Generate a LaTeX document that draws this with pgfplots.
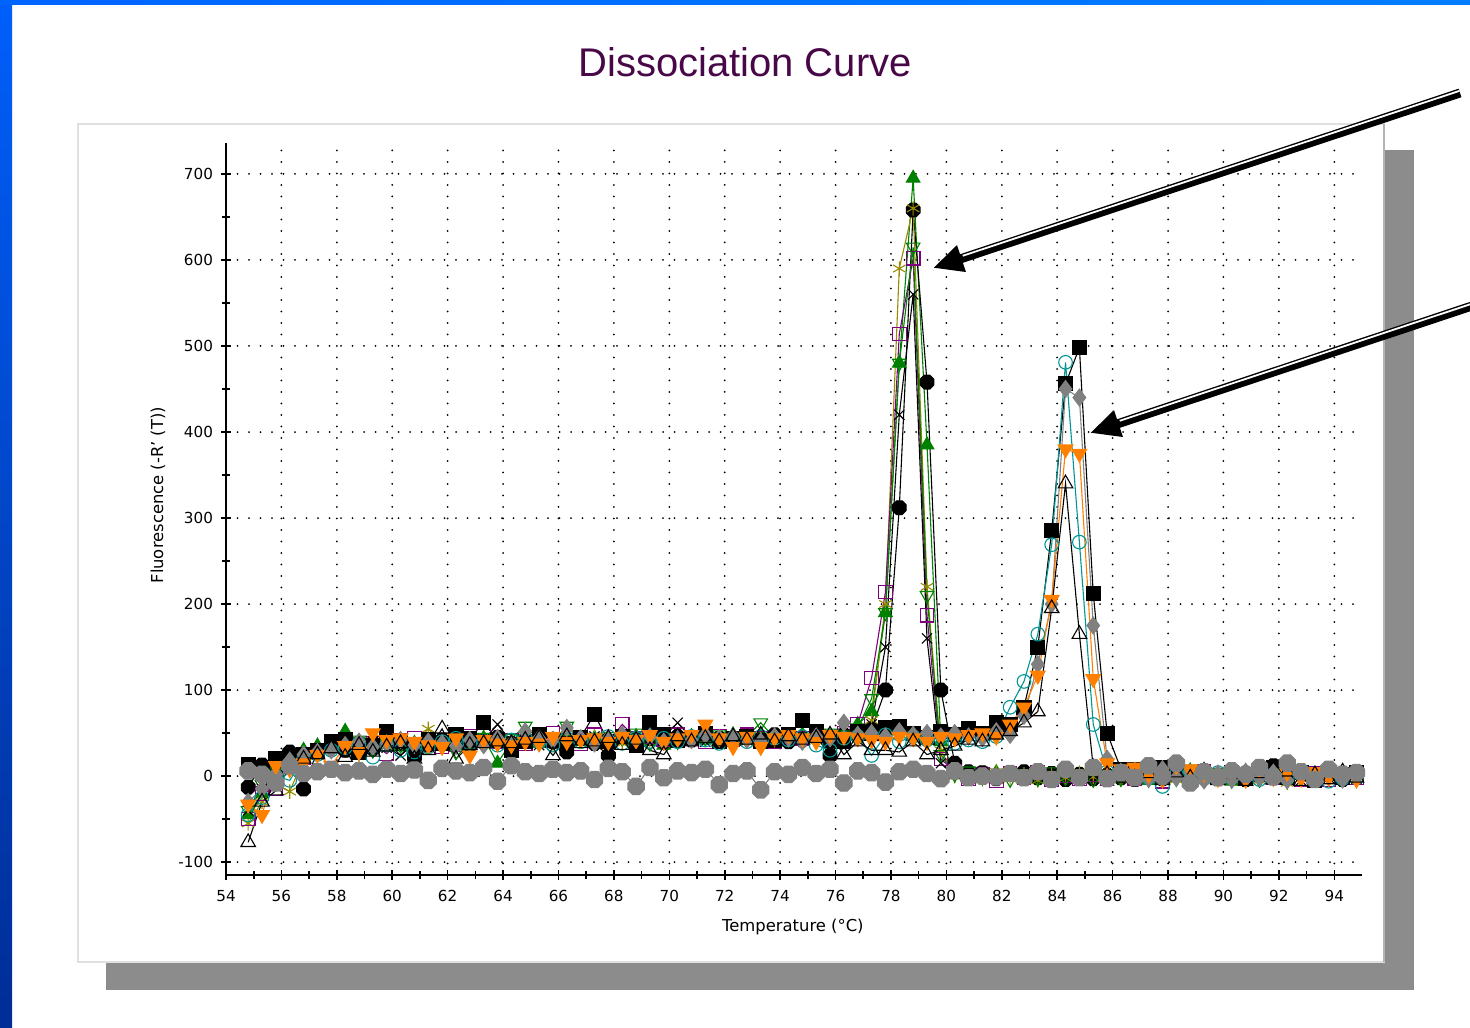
\documentclass[border=0pt]{standalone}
\usepackage{fontspec}
\setmainfont{DejaVu Sans}
\newfontfamily\titlefont{Liberation Sans}
\usepackage{pgfplots}
\usepackage{pgfplotstable}
\pgfplotsset{compat=1.18}
\usetikzlibrary{arrows.meta}

\definecolor{cgreen}{RGB}{0,128,0}
\definecolor{colive}{RGB}{150,140,0}
\definecolor{cpurple}{RGB}{128,0,128}
\definecolor{cteal}{RGB}{0,150,150}
\definecolor{cgrey}{RGB}{128,128,128}
\definecolor{corange}{RGB}{255,128,0}
\definecolor{ctitle}{RGB}{72,8,72}
\definecolor{shadowgrey}{RGB}{140,140,140}

% filled octagon marker
\pgfdeclareplotmark{oct*}{%
  \pgfpathmoveto{\pgfpointpolar{22.5}{\pgfplotmarksize}}%
  \pgfpathlineto{\pgfpointpolar{67.5}{\pgfplotmarksize}}%
  \pgfpathlineto{\pgfpointpolar{112.5}{\pgfplotmarksize}}%
  \pgfpathlineto{\pgfpointpolar{157.5}{\pgfplotmarksize}}%
  \pgfpathlineto{\pgfpointpolar{202.5}{\pgfplotmarksize}}%
  \pgfpathlineto{\pgfpointpolar{247.5}{\pgfplotmarksize}}%
  \pgfpathlineto{\pgfpointpolar{292.5}{\pgfplotmarksize}}%
  \pgfpathlineto{\pgfpointpolar{337.5}{\pgfplotmarksize}}%
  \pgfpathclose
  \pgfusepathqfillstroke}

% -R'(T) per well; a* = product 1, b* = product 2, c1 = no template
\pgfplotstableread{
T a1 a2 a3 a4 a5 a6 b1 b2 b3 b4 b5 c1
54.8 -45 -13 -55 -50 -40 -40 13 -45 -30 -33 -77 6
55.3 -20 13 -30 -20 -10 -15 8 -25 -15 -45 -30 2
55.8 5 8 -10 -15 8 5 20 0 2 12 -17 -8
56.3 18 28 -18 15 20 18 22 -5 18 8 10 12
56.8 30 -15 20 22 15 25 25 20 25 15 20 3
57.3 35 30 28 30 30 30 30 25 28 25 25 5
57.8 38 35 32 36 33 34 40 30 30 12 32 8
58.3 52 30 38 40 35 28 42 33 36 35 22 4
58.8 40 38 24 35 42 36 28 38 40 28 36 6
59.3 36 32 42 38 30 40 35 22 34 50 28 2
59.8 42 45 35 26 38 33 52 36 38 42 34 8
60.3 34 38 40 42 36 24 40 30 42 44 38 3
60.8 38 22 36 44 40 38 35 28 36 40 20 7
61.3 40 36 55 38 44 35 42 34 40 36 30 -5
61.8 36 42 38 34 38 44 38 40 38 34 55 9
62.3 42 38 40 36 28 38 48 44 35 44 20 6
62.8 38 35 34 46 40 36 44 38 42 24 36 4
63.3 44 40 38 50 45 42 62 40 36 42 38 10
63.8 15 45 44 40 38 60 42 36 44 38 40 -6
64.3 40 38 36 42 44 40 30 42 38 36 38 12
64.8 45 42 40 38 58 38 40 44 52 40 42 5
65.3 38 44 42 46 42 36 48 40 44 38 44 3
65.8 42 40 38 50 40 44 42 36 42 46 24 8
66.3 46 28 44 42 58 40 38 44 56 40 46 4
66.8 40 44 40 38 44 42 45 40 44 42 38 6
67.3 44 38 46 48 40 46 72 42 38 44 40 -4
67.8 38 24 42 40 46 38 40 46 44 40 44 9
68.3 42 46 38 60 44 42 46 38 48 46 36 5
68.8 46 42 44 44 50 40 36 44 42 42 42 -12
69.3 40 44 40 46 38 44 62 40 46 48 30 10
69.8 36 40 46 42 44 46 48 44 40 40 25 -2
70.3 44 46 42 48 40 62 42 40 44 44 46 6
70.8 46 42 40 44 46 44 45 46 42 48 40 4
71.3 42 48 46 40 44 40 50 42 48 60 44 8
71.8 40 44 42 46 48 44 40 38 44 44 40 -10
72.3 48 40 44 42 42 46 44 44 46 34 46 3
72.8 44 46 40 48 46 42 46 40 42 46 42 6
73.3 46 42 46 44 62 44 40 46 40 34 48 -16
73.8 42 48 42 40 44 46 42 44 46 44 40 5
74.3 44 40 44 46 48 42 48 42 44 48 46 2
74.8 48 42 40 44 44 46 65 46 40 44 42 10
75.3 44 46 46 48 46 44 52 36 46 40 44 3
75.8 46 24 42 44 50 48 42 30 44 48 48 8
76.3 50 48 46 50 48 44 40 44 62 46 25 -8
76.8 60 46 50 60 56 50 52 46 48 44 40 6
77.3 75 55 65 114 90 60 50 24 50 42 30 4
77.8 190 100 200 214 190 150 56 48 46 40 30 -7
78.3 480 312 590 514 480 420 58 40 52 46 28 5
78.8 695 658 660 602 615 560 50 46 48 44 40 8
79.3 385 458 220 187 210 160 45 42 50 40 25 3
79.8 40 100 30 20 25 15 52 44 46 46 30 -3
80.3 5 15 0 5 2 3 48 38 50 44 35 6
80.8 3 5 -2 -3 6 0 55 42 46 48 42 -2
81.3 -2 4 -4 2 -1 5 50 40 44 50 40 0
81.8 4 -3 5 -5 2 -2 62 46 52 46 48 -1
82.3 0 2 -3 3 -4 2 60 80 48 60 52 3
82.8 -4 5 2 -2 3 -3 80 110 70 80 62 -2
83.3 2 -2 -5 4 -3 0 150 165 130 117 75 5
83.8 -3 3 2 -4 5 -2 285 269 200 205 195 -4
84.3 1 -4 -2 0 -2 3 456 481 450 380 340 8
84.8 -2 2 4 -3 0 -1 498 272 440 375 165 -2
85.3 3 -3 -1 2 -4 2 212 60 175 113 10 10
85.8 -6 1 3 -3 2 -2 50 5 20 15 2 -3
86.3 2 -2 -4 4 -3 5 8 2 5 8 -2 4
86.8 3 -4 2 -3 5 -2 8 -3 6 10 -2 -2
87.3 -5 2 -3 6 -4 3 4 -2 -3 2 3 12
87.8 4 -3 5 -6 2 -1 10 -12 8 -4 -5 0
88.3 -2 5 -4 3 -3 4 6 2 -2 12 4 15
88.8 6 -2 3 -4 8 -3 -4 5 4 8 -2 -8
89.3 -3 4 -2 5 -2 2 2 -3 -5 3 6 5
89.8 2 -3 4 -2 4 -4 -2 4 3 -3 -5 -2
90.3 -6 2 -3 4 -5 3 4 -2 -4 6 2 6
90.8 4 -4 2 -3 3 -2 -3 3 5 -4 -6 2
91.3 -2 3 -5 2 -4 4 6 -4 -2 8 3 10
91.8 5 12 -3 -2 2 -3 10 2 4 -2 -4 -1
92.3 -3 -2 -8 4 -3 2 -2 -3 -5 4 5 15
92.8 3 4 2 -4 5 -5 4 2 3 -3 -6 5
93.3 -4 -3 -2 3 -2 3 -5 -4 -2 5 2 -4
93.8 6 2 3 -4 4 -2 3 -6 4 -2 -4 8
94.3 -2 -4 -3 2 -3 4 -2 -3 -4 3 5 2
94.8 2 3 1 -2 2 -3 4 -2 3 -4 -2 4
}\dc

\begin{document}
\begin{tikzpicture}[x=0.5pt, y=0.5pt]
\clip (0,0) rectangle (1470,1027);
\fill[white] (0,0) rectangle (1470,1027);
% slide frame
\shade[top color={rgb,255:red,0;green,95;blue,250}, middle color={rgb,255:red,0;green,140;blue,255}, bottom color={rgb,255:red,0;green,45;blue,150}] (0,0) rectangle (12,1027);
\shade[left color={rgb,255:red,0;green,100;blue,255}, right color={rgb,255:red,0;green,125;blue,255}] (0,1022) rectangle (1470,1027);
% chart panel with drop shadow
\fill[shadowgrey] (106,37) rectangle (1414,877);
\fill[white] (78,65) rectangle (1384,903);
\draw[black!12, line width=0.8pt] (78,65) rectangle (1384,903);
\draw[black!30, line width=1pt] (1384,65) -- (1384,903);

\node[font=\titlefont\fontsize{20}{24}\selectfont, text=ctitle] at (745,965) {Dissociation Curve};

\begin{axis}[
  at={(113pt,76pt)}, anchor=south west,
  scale only axis, width=568pt, height=366pt,
  xmin=54, xmax=95, ymin=-115, ymax=736,
  axis x line=bottom, axis y line=left,
  axis line style={-, line width=1pt},
  xtick={54,56,...,94}, ytick={-100,0,...,700},
  minor x tick num=1, minor y tick num=1,
  tick align=center,
  major tick length=5pt, minor tick length=4pt,
  tick style={black, line width=0.8pt},
  grid=major,
  major grid style={black, line width=1pt, line cap=round, dash pattern=on 0pt off 5.75pt},
  tick label style={font=\fontsize{7.6}{9}\selectfont},
  /pgf/number format/assume math mode=true,
  xticklabel style={yshift=-1.5pt},
  yticklabel style={xshift=-0.5pt},
  xlabel={Temperature (°C)},
  ylabel={Fluorescence (-R' (T))},
  label style={font=\fontsize{8.2}{9}\selectfont},
  xlabel style={at={(axis description cs:0.499,-0.071)}, anchor=center},
  ylabel style={at={(axis description cs:-0.0599,0.519)}, anchor=center},
  every axis plot/.append style={line width=0.55pt},
]
% product 1 (Tm near 78.8)
\addplot[cgreen, mark=triangle*, mark size=3.9pt, mark options={fill=cgreen}] table[x=T,y=a1] {\dc};
\addplot[black, mark=oct*, mark size=3.7pt, mark options={fill=black}] table[x=T,y=a2] {\dc};
\addplot[colive, mark=asterisk, mark size=3.6pt] table[x=T,y=a3] {\dc};
\addplot[cpurple, mark=square, mark size=3.4pt] table[x=T,y=a4] {\dc};
\addplot[cgreen, mark=triangle, mark size=3.9pt, mark options={rotate=180}] table[x=T,y=a5] {\dc};
\addplot[black, mark=x, mark size=3.6pt] table[x=T,y=a6] {\dc};
% product 2 (Tm near 84.5)
\addplot[black, mark=square*, mark size=3.5pt, mark options={fill=black}] table[x=T,y=b1] {\dc};
\addplot[cteal, mark=o, mark size=3.4pt] table[x=T,y=b2] {\dc};
\addplot[cgrey, mark=diamond*, mark size=4.2pt, mark options={fill=cgrey}] table[x=T,y=b3] {\dc};
\addplot[corange, mark=triangle*, mark size=4.2pt, mark options={rotate=180, fill=corange}] table[x=T,y=b4] {\dc};
\addplot[black, mark=triangle, mark size=4.2pt, mark options={fill=white}] table[x=T,y=b5] {\dc};
% no-template control
\addplot[cgrey, mark=oct*, mark size=4.4pt, mark options={fill=cgrey}] table[x=T,y=c1] {\dc};
\end{axis}

% callout arrows
\draw[black, line width=4.5pt, -{Triangle[length=15pt, width=13pt]}] (1460,934) -- (933,759);
\draw[white, line width=0.9pt] (1459.3,936.1) -- (962.7,771.2);
\draw[black, line width=4.5pt, -{Triangle[length=15pt, width=13pt]}] (1475,722) -- (1090,594);
\draw[white, line width=0.9pt] (1474.3,724.1) -- (1119.7,606.2);
\end{tikzpicture}
\end{document}
